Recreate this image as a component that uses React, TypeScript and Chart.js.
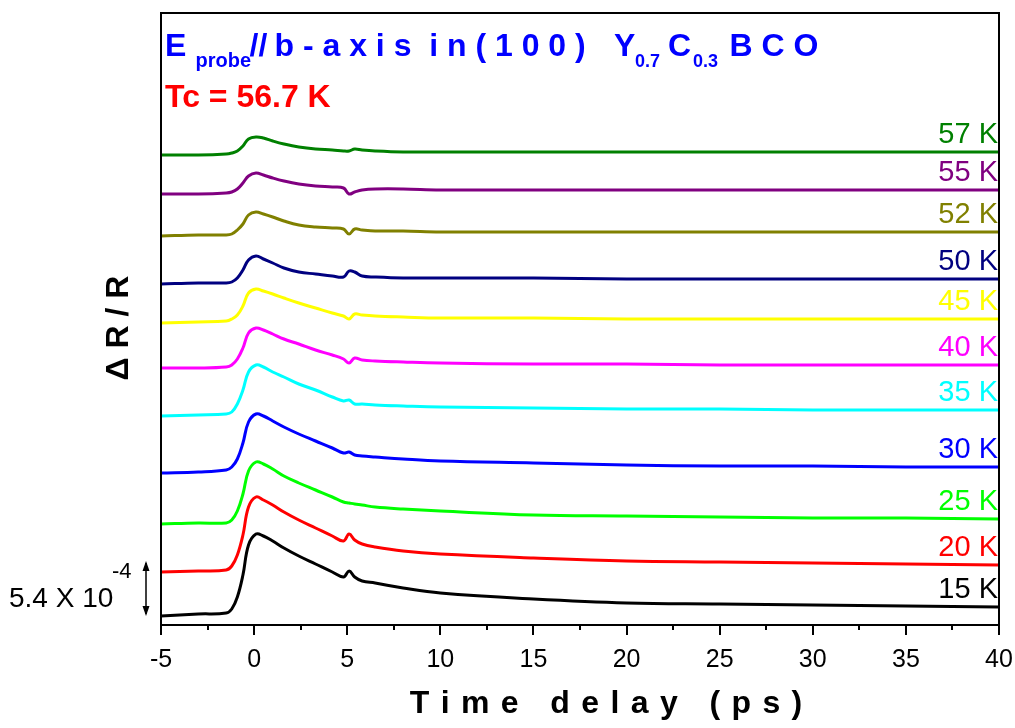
import React, { useEffect, useRef } from 'react';
import { Chart, registerables } from 'chart.js';

Chart.register(...registerables);

const FONT = '"Liberation Sans", Arial, Helvetica, sans-serif';

// Time delay (ps)
const times = [-5, -3, -1.5, -1.2, -0.9, -0.6, -0.3, 0.1, 0.5, 1, 1.6, 2.4, 3.3, 4.2, 4.8, 5.1, 5.4, 5.8, 6.5, 8, 10, 15, 20, 25, 30, 35, 40];

// ΔR/R traces (arbitrary units, vertically offset for clarity)
const k15 = [9, 11, 12, 16, 28, 50, 80, 91, 89, 84, 77, 69, 61, 53, 48, 54, 48, 44, 42, 37, 32, 26, 22, 21, 20, 19, 18];
const k20 = [53, 54, 55, 59, 70, 90, 118, 128, 125, 120, 113, 105, 97, 89, 84, 91, 85, 81, 78, 74, 71, 67, 64, 63, 62, 61, 60];
const k25 = [101, 102, 102, 105, 114, 131, 154, 163, 161, 156, 149, 142, 135, 128, 123, 122, 121, 120, 118, 116, 114, 110, 109, 108, 107, 107, 106];
const k30 = [152, 153, 155, 158, 166, 182, 203, 211, 209, 204, 198, 191, 184, 177, 172, 173, 170, 169, 168, 166, 164, 162, 160, 159, 159, 158, 158];
const k35 = [209, 210, 211, 213, 221, 235, 253, 260, 258, 253, 248, 241, 235, 228, 224, 225, 221, 221, 220, 219, 218, 217, 216, 216, 215, 215, 215];
const k40 = [257, 257, 258, 260, 266, 277, 292, 297, 295, 291, 286, 281, 275, 270, 266, 262, 267, 265, 264, 263, 262, 261, 261, 260, 260, 260, 260];
const k45 = [302, 303, 304, 306, 310, 319, 332, 336, 334, 331, 327, 322, 317, 312, 309, 306, 311, 310, 309, 308, 307, 307, 306, 306, 306, 306, 306];
const k50 = [341, 342, 342, 343, 347, 355, 365, 369, 366, 362, 357, 353, 351, 349, 348, 354, 353, 349, 348, 347, 347, 347, 346, 346, 346, 346, 346];
const k52 = [389, 390, 390, 391, 395, 401, 410, 413, 411, 408, 404, 400, 398, 397, 396, 391, 396, 395, 394, 394, 393, 393, 393, 393, 393, 393, 393];
const k55 = [431, 431, 432, 433, 436, 442, 449, 452, 450, 447, 444, 441, 439, 438, 437, 431, 433, 435, 436, 436, 435, 435, 435, 435, 435, 435, 435];
const k57 = [470, 470, 471, 472, 474, 479, 486, 488, 487, 484, 481, 478, 476, 475, 474, 474, 476, 475, 474, 473, 473, 473, 473, 473, 473, 473, 473];

const seriesLabels = ['15 K', '20 K', '25 K', '30 K', '35 K', '40 K', '45 K', '50 K', '52 K', '55 K', '57 K'];
const seriesValues = [k15, k20, k25, k30, k35, k40, k45, k50, k52, k55, k57];
const seriesColors = ['#000000', '#FF0000', '#00FF00', '#0000FF', '#00FFFF', '#FF00FF', '#FFFF00', '#000080', '#808000', '#800080', '#008000'];

const xMajorTicks = [-5, 0, 5, 10, 15, 20, 25, 30, 35, 40];
const xMinorTicks = [-2.5, 2.5, 7.5, 12.5, 17.5, 22.5, 27.5, 32.5, 37.5];
const scaleBar = [9, 64]; // 5.4 x 10^-4

function drawSpaced(ctx: CanvasRenderingContext2D, text: string, x: number, y: number, spacing: number) {
  let cx = x;
  for (const ch of text) {
    ctx.fillText(ch, cx, y);
    cx += ctx.measureText(ch).width + spacing;
  }
}
function spacedWidth(ctx: CanvasRenderingContext2D, text: string, spacing: number) {
  let w = 0;
  const chars = Array.from(text);
  chars.forEach((ch) => (w += ctx.measureText(ch).width));
  return w + spacing * (chars.length - 1);
}

const decorPlugin = {
  id: 'decor',
  afterDraw(chart: any) {
    const ctx: CanvasRenderingContext2D = chart.ctx;
    const { left, right, top, bottom } = chart.chartArea;
    const xs = chart.scales.x;
    const ys = chart.scales.y;
    ctx.save();
    ctx.textAlign = 'left';
    ctx.textBaseline = 'alphabetic';

    // frame
    ctx.strokeStyle = '#000';
    ctx.lineWidth = 2;
    ctx.strokeRect(left, top, right - left, bottom - top);

    // ticks
    ctx.beginPath();
    xMajorTicks.forEach((v) => {
      const px = Math.round(xs.getPixelForValue(v));
      ctx.moveTo(px, bottom);
      ctx.lineTo(px, bottom + 10);
    });
    xMinorTicks.forEach((v) => {
      const px = Math.round(xs.getPixelForValue(v));
      ctx.moveTo(px, bottom);
      ctx.lineTo(px, bottom + 5);
    });
    ctx.stroke();

    // tick labels
    ctx.fillStyle = '#000';
    ctx.font = `25px ${FONT}`;
    ctx.textAlign = 'center';
    xMajorTicks.forEach((v) => {
      ctx.fillText(String(v), xs.getPixelForValue(v), bottom + 42);
    });

    // x title
    ctx.font = `bold 32px ${FONT}`;
    ctx.textAlign = 'left';
    const xt = 'Time delay (ps)';
    const sp = 11.4;
    const w = spacedWidth(ctx, xt, sp);
    drawSpaced(ctx, xt, 606 - w / 2, 713, sp);

    // y title
    ctx.save();
    ctx.translate(128, 328);
    ctx.rotate(-Math.PI / 2);
    ctx.textAlign = 'center';
    ctx.font = `bold 32px ${FONT}`;
    ctx.fillText('Δ R / R', 0, 0);
    ctx.restore();

    // scale bar
    const yb = ys.getPixelForValue(scaleBar[0]);
    const yt = ys.getPixelForValue(scaleBar[1]);
    const ax = 146;
    ctx.lineWidth = 1.5;
    ctx.beginPath();
    ctx.moveTo(ax, yt + 2);
    ctx.lineTo(ax, yb - 2);
    ctx.stroke();
    ctx.beginPath();
    ctx.moveTo(ax, yt);
    ctx.lineTo(ax - 3.5, yt + 10);
    ctx.lineTo(ax + 3.5, yt + 10);
    ctx.closePath();
    ctx.fill();
    ctx.beginPath();
    ctx.moveTo(ax, yb);
    ctx.lineTo(ax - 3.5, yb - 10);
    ctx.lineTo(ax + 3.5, yb - 10);
    ctx.closePath();
    ctx.fill();
    ctx.textAlign = 'left';
    ctx.font = `28px ${FONT}`;
    ctx.fillText('5.4 X 10', 9, 607);
    ctx.font = `22px ${FONT}`;
    ctx.fillText('-4', 112, 578);

    // series labels
    ctx.font = `29px ${FONT}`;
    ctx.textAlign = 'right';
    seriesValues.forEach((vals, i) => {
      const py = ys.getPixelForValue(vals[vals.length - 1]);
      ctx.fillStyle = seriesColors[i];
      ctx.fillText(seriesLabels[i], right - 1, py - 9);
    });

    // title
    ctx.textAlign = 'left';
    ctx.fillStyle = '#0000FF';
    ctx.font = `bold 32px ${FONT}`;
    ctx.fillText('E', 165, 55.5);
    ctx.font = `bold 20px ${FONT}`;
    ctx.fillText('probe', 195.5, 67);
    ctx.font = `bold 32px ${FONT}`;
    ctx.fillText('//', 249.5, 55.5);
    ctx.fillText('b - a x i s  i n ( 1 0 0 )', 274.5, 55.5);
    ctx.fillText('Y', 614, 55.5);
    ctx.font = `bold 18px ${FONT}`;
    ctx.fillText('0.7', 635, 67);
    ctx.font = `bold 32px ${FONT}`;
    ctx.fillText('C', 668, 55.5);
    ctx.font = `bold 18px ${FONT}`;
    ctx.fillText('0.3', 693, 67);
    ctx.font = `bold 32px ${FONT}`;
    ctx.fillText('B C O', 729.5, 55.5);

    ctx.fillStyle = '#FF0000';
    ctx.fillText('Tc = 56.7 K', 165, 106.7);

    ctx.restore();
  },
};

export default function App() {
  const ref = useRef<HTMLCanvasElement | null>(null);
  useEffect(() => {
    document.body.style.margin = '0';
    const canvas = ref.current;
    if (!canvas) return;
    const chart = new Chart(canvas, {
      type: 'line',
      data: {
        datasets: seriesValues.map((vals, i) => ({
          label: seriesLabels[i],
          data: times.map((t, j) => ({ x: t, y: vals[j] })),
          borderColor: seriesColors[i],
          backgroundColor: seriesColors[i],
          borderWidth: 3,
          pointRadius: 0,
          fill: false,
          tension: 0.4,
        })),
      },
      options: {
        animation: false,
        responsive: false,
        devicePixelRatio: 1,
        layout: { padding: { left: 161, right: 16, top: 13, bottom: 103 } },
        plugins: { legend: { display: false }, tooltip: { enabled: false } },
        events: [],
        scales: {
          x: { type: 'linear', min: -5, max: 40, display: false },
          y: { type: 'linear', min: 0, max: 612, display: false },
        },
      },
      plugins: [decorPlugin],
    });
    return () => chart.destroy();
  }, []);
  return <canvas ref={ref} width={1015} height={728} style={{ display: 'block' }} />;
}
